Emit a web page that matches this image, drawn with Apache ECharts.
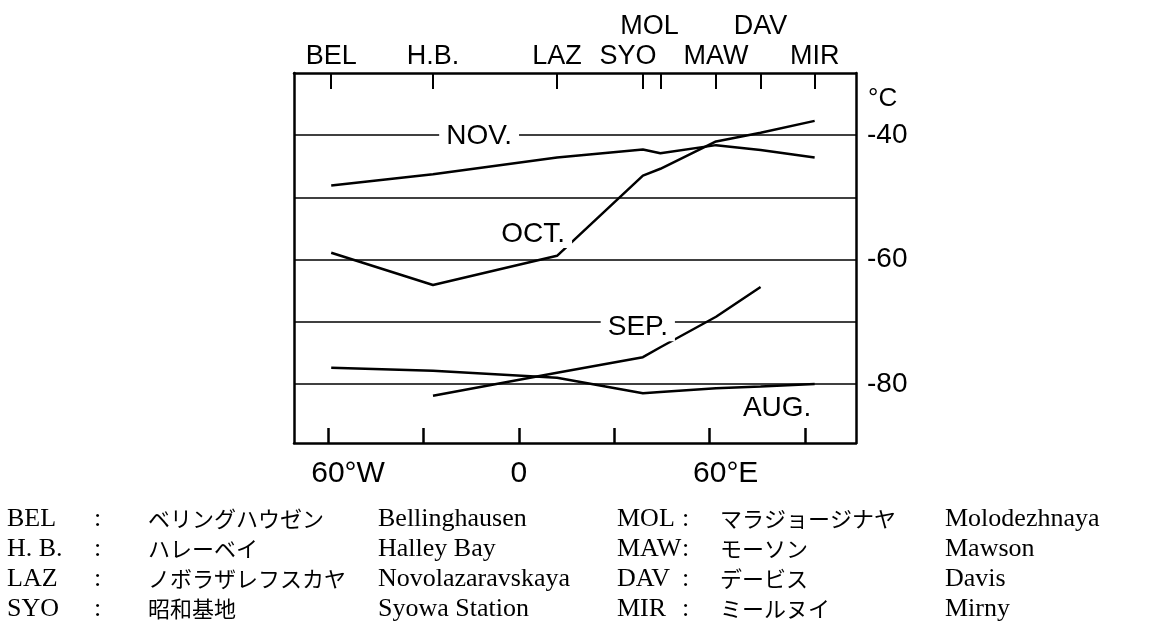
<!DOCTYPE html>
<html>
<head>
<meta charset="utf-8">
<script src="https://cdn.jsdelivr.net/npm/echarts@6/dist/echarts.min.js"></script>
<style>
  html, body { margin: 0; padding: 0; background: #fff; }
  #chart { width: 1155px; height: 635px; }
</style>
</head>
<body>
<div id="chart"></div>
<script>
// stations along the top axis, longitude in degrees (west negative)
var stations = ['BEL', 'H.B.', 'LAZ', 'SYO', 'MOL', 'MAW', 'DAV', 'MIR'];
var stationLon = [-59, -27, 12, 39, 44.5, 62, 76, 93];
var upperRow = ['MOL', 'DAV'];

// monthly mean temperature (°C) at each station, null = no value
var nov = [-48.1, -46.3, -43.6, -42.3, -42.9, -41.6, -42.4, -43.6];
var oct = [-58.9, -64.1, -59.4, -46.5, -45.4, -41.0, -39.6, -37.7];
var sep = [null, -81.9, -78.2, -75.7, -74.1, -69.2, -64.4, null];
var aug = [-77.4, -77.9, -79.0, -81.5, -81.3, -80.7, -80.4, -80.0];

var lonTicks = [-60, -30, 0, 30, 60, 90];
var lonLabels = [-60, 0, 60];
var tempGrid = [-40, -50, -60, -70, -80];
var tempLabels = [-40, -60, -80];

// legend table under the chart
var abbr1 = ['BEL', 'H. B.', 'LAZ', 'SYO'];
var kana1 = ['ベリングハウゼン', 'ハレーベイ', 'ノボラザレフスカヤ', '昭和基地'];
var name1 = ['Bellinghausen', 'Halley Bay', 'Novolazaravskaya', 'Syowa Station'];
var abbr2 = ['MOL', 'MAW', 'DAV', 'MIR'];
var kana2 = ['マラジョージナヤ', 'モーソン', 'デービス', 'ミールヌイ'];
var name2 = ['Molodezhnaya', 'Mawson', 'Davis', 'Mirny'];

var sans = 'Liberation Sans, Arial, sans-serif';
var serif = 'Liberation Serif, Times New Roman, serif';
var jp = 'Noto Sans CJK JP, sans-serif';

function pts(vals) {
  var out = [];
  for (var i = 0; i < stationLon.length; i++) {
    if (vals[i] != null) out.push([stationLon[i], vals[i]]);
  }
  return out;
}

function monthLabel(text, coord) {
  return {
    symbol: 'rect', symbolSize: 0, silent: true, z: 10,
    label: {
      show: true, position: 'inside', formatter: text, color: '#000',
      fontFamily: sans, fontSize: 28, backgroundColor: '#fff', padding: [0, 7]
    },
    data: [{ coord: coord }]
  };
}

var lineStyle = { color: '#000', width: 2.5 };

function mkSeries(name, vals, mark) {
  return {
    name: name, type: 'line', data: pts(vals), symbol: 'none',
    lineStyle: lineStyle, silent: true, markPoint: mark
  };
}

var series = [
  mkSeries('NOV', nov, monthLabel('NOV.', [-12.5, -40.2])),
  mkSeries('OCT', oct, monthLabel('OCT.', [4.5, -55.9])),
  mkSeries('SEP', sep, monthLabel('SEP.', [37.4, -70.9])),
  mkSeries('AUG', aug, monthLabel('AUG.', [81.2, -83.9]))
];
// horizontal grid lines
series[0].markLine = {
  silent: true, symbol: 'none', z: 1,
  label: { show: false },
  lineStyle: { color: '#000', width: 1.5, type: 'solid' },
  data: tempGrid.map(function (v) { return { yAxis: v }; })
};

var axisLine = { show: true, onZero: false, lineStyle: { color: '#000', width: 2.5 } };

// label nudges for crowded station names (right padding shifts left)
var nudge = { SYO: 30, MOL: 22 };
var topRich = {};
stations.forEach(function (s, i) {
  topRich['s' + i] = { fontFamily: sans, fontSize: 27, color: '#000', padding: [0, nudge[s] || 0, 0, 0] };
});

function topFormatter(v) {
  var i = stationLon.indexOf(v);
  return i < 0 ? '' : '{s' + i + '|' + stations[i] + '}';
}

var lowerLon = stationLon.filter(function (v, i) { return upperRow.indexOf(stations[i]) < 0; });
var upperLon = stationLon.filter(function (v, i) { return upperRow.indexOf(stations[i]) >= 0; });

var xMin = -70.7, xMax = 106;

var graphics = [];
function addText(x, y, text, font, size) {
  graphics.push({
    type: 'text', x: x, y: y, silent: true,
    style: { text: text, font: size + 'px ' + font, fill: '#000', align: 'left', verticalAlign: 'middle' }
  });
}
var rowY = [519, 549, 579, 609];
for (var r = 0; r < 4; r++) {
  addText(7, rowY[r], abbr1[r], serif, 26);
  addText(94, rowY[r], ':', serif, 26);
  addText(148, rowY[r], kana1[r], jp, 22);
  addText(378, rowY[r], name1[r], serif, 26);
  addText(617, rowY[r], abbr2[r], serif, 26);
  addText(682, rowY[r], ':', serif, 26);
  addText(720, rowY[r], kana2[r], jp, 22);
  addText(945, rowY[r], name2[r], serif, 26);
}

var chart = echarts.init(document.getElementById('chart'), null, { renderer: 'canvas' });
chart.setOption({
  animation: false,
  backgroundColor: '#fff',
  grid: { left: 294, right: 299, top: 73, bottom: 192, containLabel: false },
  xAxis: [
    {
      type: 'value', position: 'bottom', min: xMin, max: xMax,
      axisLine: axisLine,
      axisTick: { show: true, inside: true, length: 15, customValues: lonTicks, lineStyle: { color: '#000', width: 2.5 } },
      axisLabel: {
        customValues: lonLabels, margin: 16, color: '#000', fontFamily: sans, fontSize: 30,
        formatter: function (v) {
          if (v === 0) return '0';
          return v < 0 ? '{w|' + (-v) + '°W}' : '{e|' + v + '°E}';
        },
        rich: {
          w: { fontFamily: sans, fontSize: 30, color: '#000', padding: [0, 0, 0, 40] },
          e: { fontFamily: sans, fontSize: 30, color: '#000', padding: [0, 0, 0, 32] }
        }
      },
      splitLine: { show: false }
    },
    {
      type: 'value', position: 'top', min: xMin, max: xMax,
      axisLine: axisLine,
      axisTick: { show: true, inside: true, length: 16, customValues: stationLon, lineStyle: { color: '#000', width: 2 } },
      axisLabel: { customValues: lowerLon, margin: 3, formatter: topFormatter, rich: topRich },
      splitLine: { show: false }
    },
    {
      type: 'value', position: 'top', offset: 30, min: xMin, max: xMax,
      axisLine: { show: false, onZero: false },
      axisTick: { show: false },
      axisLabel: { customValues: upperLon, margin: 3, formatter: topFormatter, rich: topRich },
      splitLine: { show: false }
    }
  ],
  yAxis: [
    {
      type: 'value', position: 'right', min: -89.5, max: -30,
      axisLine: axisLine,
      axisTick: { show: false },
      axisLabel: { customValues: tempLabels, margin: 11, color: '#000', fontFamily: sans, fontSize: 28 },
      splitLine: { show: false },
      name: '°C', nameLocation: 'end', nameGap: -26,
      nameTextStyle: { color: '#000', fontFamily: sans, fontSize: 26, align: 'left', verticalAlign: 'middle', padding: [0, 0, 0, 12] }
    },
    {
      type: 'value', position: 'left', min: -89.5, max: -30,
      axisLine: axisLine, axisTick: { show: false }, axisLabel: { show: false },
      splitLine: { show: false }
    }
  ],
  series: series,
  graphic: graphics
});
</script>
</body>
</html>
